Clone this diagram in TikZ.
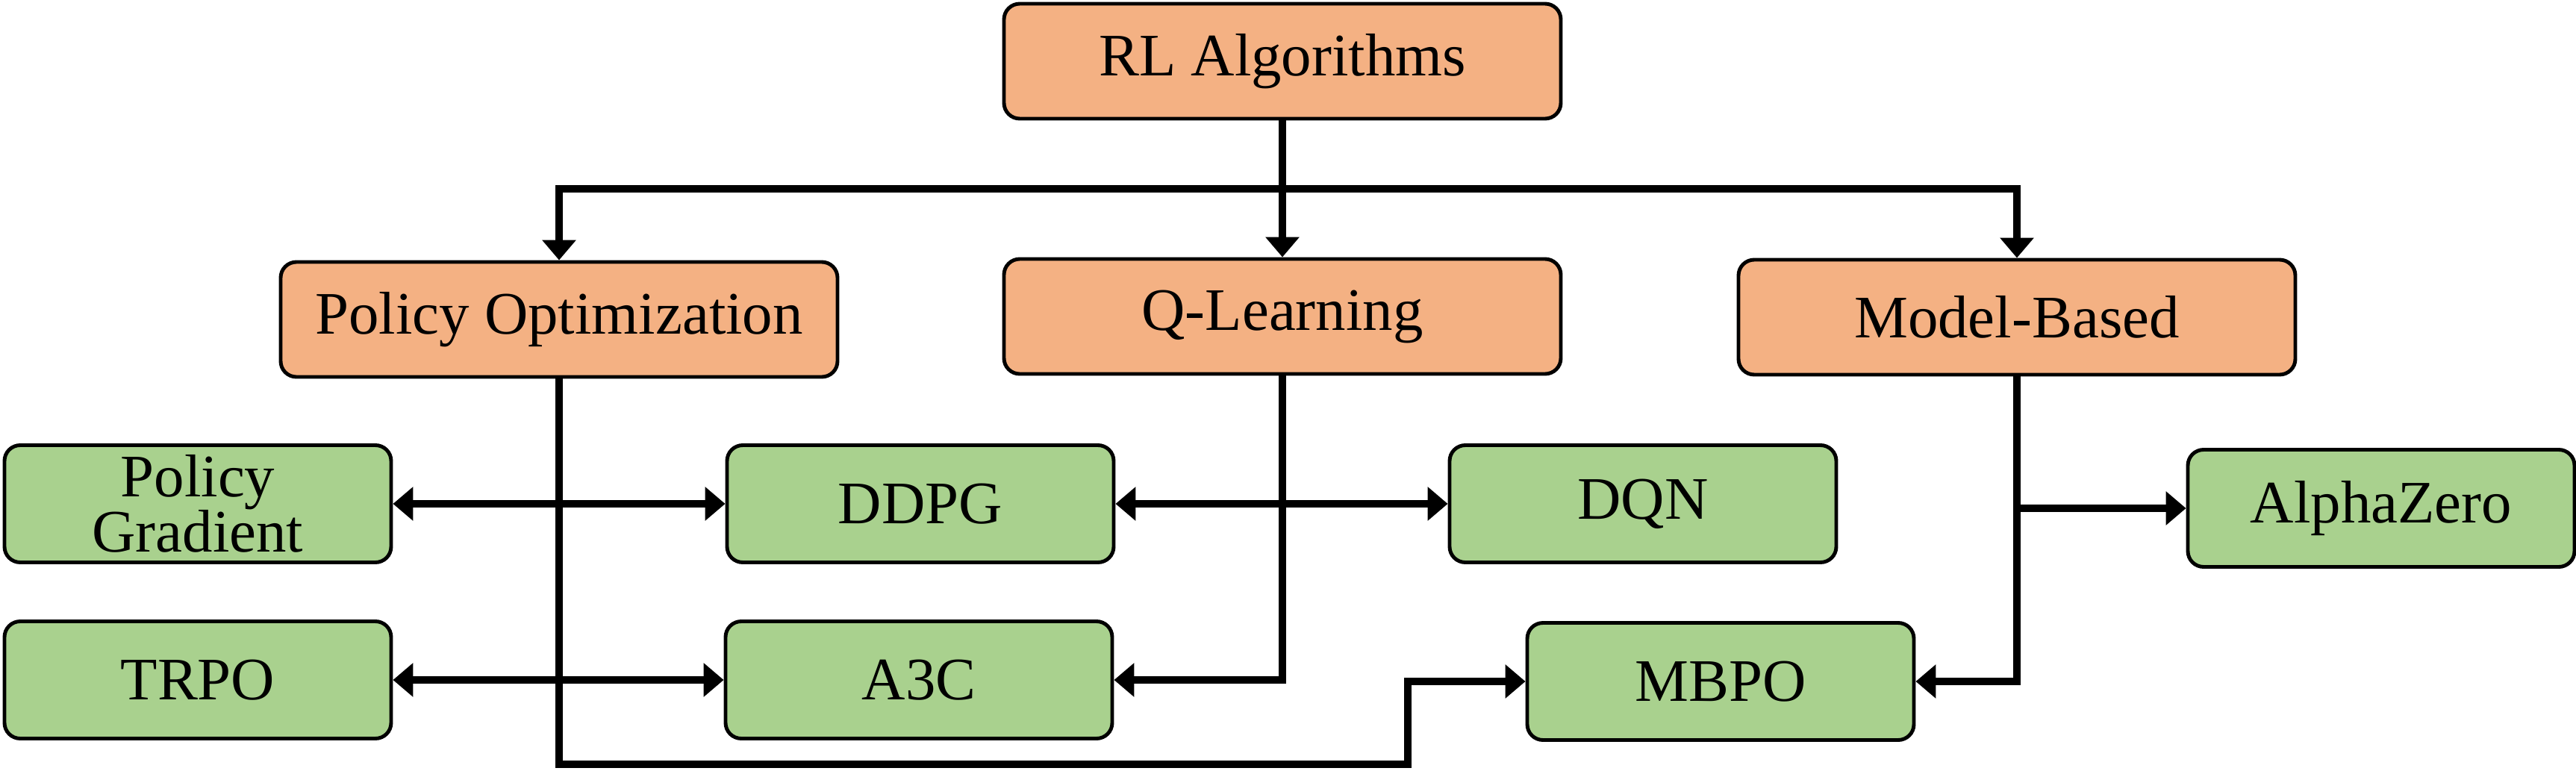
\documentclass[tikz,border=0pt]{standalone}
\usepackage{fontspec}
\setmainfont{Liberation Serif}
\usetikzlibrary{arrows.meta}
\definecolor{headfill}{HTML}{F4B183}
\definecolor{leaffill}{HTML}{A9D18E}

\begin{document}
\begin{tikzpicture}[
            head/.style={draw, line width=1.4pt, rounded corners=6pt, fill=headfill,
                minimum width=7.46cm, minimum height=1.54cm, font=\fontsize{23}{21}\selectfont},
            leaf/.style={draw, line width=1.4pt, rounded corners=6pt, fill=leaffill, align=center,
                minimum width=5.18cm, minimum height=1.57cm, font=\fontsize{23}{21}\selectfont},
            wire/.style={line width=2.6pt},
            link/.style={wire, -{Triangle[length=2.7mm, width=4.4mm]}},
            twoway/.style={wire, {Triangle[length=2.7mm, width=4.4mm]}-{Triangle[length=2.7mm, width=4.4mm]}}
        ]
            \useasboundingbox (0, 0) rectangle (34.51, -10.33);

            % categories
            \node[head] (rl) at (17.18, -0.82) {RL Algorithms};
            \node[head] (po) at (7.49, -4.28) {Policy Optimization};
            \node[head] (ql) at (17.18, -4.24) {Q-Learning};
            \node[head] (mb) at (27.02, -4.25) {Model-Based};

            % algorithms
            \node[leaf] (pg) at (2.65, -6.75) {Policy\\Gradient};
            \node[leaf] (ddpg) at (12.33, -6.75) {DDPG};
            \node[leaf] (dqn) at (22.01, -6.75) {DQN};
            \node[leaf] (az) at (31.90, -6.81) {AlphaZero};
            \node[leaf] (trpo) at (2.65, -9.11) {TRPO};
            \node[leaf] (a3c) at (12.31, -9.11) {A3C};
            \node[leaf] (mbpo) at (23.05, -9.13) {MBPO};

            \coordinate (split) at (17.18, -2.53);
            \coordinate (jog) at (18.86, -10.24);
            \coordinate (fork) at (27.02, -6.81);

            \draw[wire] (rl.south) -- (split);
            \draw[link] (split) -| (po.north);
            \draw[link] (split) -- (ql.north);
            \draw[link] (split) -| (mb.north);

            \draw[link] (po.south) |- (jog) |- (mbpo.west);
            \draw[link] (ql.south) |- (a3c.east);
            \draw[link] (mb.south) |- (mbpo.east);
            \draw[link] (fork) -- (az.west);

            \draw[twoway] (pg.east) -- (ddpg.west);
            \draw[twoway] (ddpg.east) -- (dqn.west);
            \draw[twoway] (trpo.east) -- (a3c.west);
        \end{tikzpicture}
\end{document}
